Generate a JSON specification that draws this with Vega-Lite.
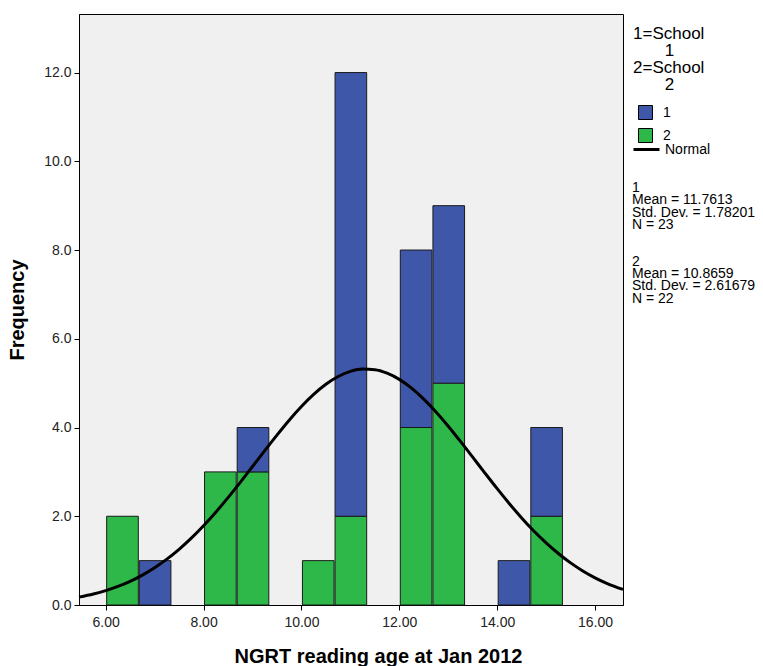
{
  "$schema": "https://vega.github.io/schema/vega-lite/v6.json",
  "autosize": "none",
  "width": 544,
  "height": 591,
  "padding": {"left": 79, "top": 14, "right": 140, "bottom": 61},
  "background": "white",
  "config": {
    "font": "Liberation Sans",
    "view": {"stroke": "black", "strokeWidth": 1, "fill": "#F0F0F0"},
    "axis": {
      "grid": false,
      "domainColor": "black",
      "tickColor": "black",
      "tickSize": 5,
      "labelFont": "Liberation Sans",
      "labelFontSize": 14,
      "labelColor": "#222222",
      "titleFont": "Liberation Sans",
      "titleFontSize": 20,
      "titleFontWeight": "bold",
      "titleColor": "black"
    }
  },
  "datasets": {
    "bars": [
      {"school": "2", "start": 6.0, "end": 6.6667, "count": 2},
      {"school": "1", "start": 6.6667, "end": 7.3333, "count": 1},
      {"school": "2", "start": 8.0, "end": 8.6667, "count": 3},
      {"school": "2", "start": 8.6667, "end": 9.3333, "count": 3},
      {"school": "1", "start": 8.6667, "end": 9.3333, "count": 1},
      {"school": "2", "start": 10.0, "end": 10.6667, "count": 1},
      {"school": "2", "start": 10.6667, "end": 11.3333, "count": 2},
      {"school": "1", "start": 10.6667, "end": 11.3333, "count": 10},
      {"school": "2", "start": 12.0, "end": 12.6667, "count": 4},
      {"school": "1", "start": 12.0, "end": 12.6667, "count": 4},
      {"school": "2", "start": 12.6667, "end": 13.3333, "count": 5},
      {"school": "1", "start": 12.6667, "end": 13.3333, "count": 4},
      {"school": "1", "start": 14.0, "end": 14.6667, "count": 1},
      {"school": "2", "start": 14.6667, "end": 15.3333, "count": 2},
      {"school": "1", "start": 14.6667, "end": 15.3333, "count": 2}
    ],
    "normal": [
      {"x": 5.455, "y": 0.177}, {"x": 5.75, "y": 0.247}, {"x": 6.0, "y": 0.323},
      {"x": 6.25, "y": 0.418}, {"x": 6.5, "y": 0.534}, {"x": 6.75, "y": 0.674},
      {"x": 7.0, "y": 0.839}, {"x": 7.25, "y": 1.033}, {"x": 7.5, "y": 1.255},
      {"x": 7.75, "y": 1.506}, {"x": 8.0, "y": 1.786}, {"x": 8.25, "y": 2.092},
      {"x": 8.5, "y": 2.42}, {"x": 8.75, "y": 2.765}, {"x": 9.0, "y": 3.121},
      {"x": 9.25, "y": 3.479}, {"x": 9.5, "y": 3.83}, {"x": 9.75, "y": 4.166},
      {"x": 10.0, "y": 4.474}, {"x": 10.25, "y": 4.747}, {"x": 10.5, "y": 4.975},
      {"x": 10.75, "y": 5.15}, {"x": 11.0, "y": 5.265}, {"x": 11.25, "y": 5.317},
      {"x": 11.5, "y": 5.304}, {"x": 11.75, "y": 5.225}, {"x": 12.0, "y": 5.085},
      {"x": 12.25, "y": 4.888}, {"x": 12.5, "y": 4.64}, {"x": 12.75, "y": 4.351},
      {"x": 13.0, "y": 4.03}, {"x": 13.25, "y": 3.687}, {"x": 13.5, "y": 3.332},
      {"x": 13.75, "y": 2.974}, {"x": 14.0, "y": 2.622}, {"x": 14.25, "y": 2.283},
      {"x": 14.5, "y": 1.963}, {"x": 14.75, "y": 1.668}, {"x": 15.0, "y": 1.4},
      {"x": 15.25, "y": 1.16}, {"x": 15.5, "y": 0.949}, {"x": 15.75, "y": 0.768},
      {"x": 16.0, "y": 0.613}, {"x": 16.25, "y": 0.484}, {"x": 16.571, "y": 0.351}
    ]
  },
  "layer": [
    {
      "data": {"name": "bars"},
      "mark": {"type": "bar", "stroke": "#1a1a1a", "strokeWidth": 1},
      "encoding": {
        "x": {
          "field": "start",
          "bin": {"binned": true, "step": 0.6667},
          "type": "quantitative",
          "scale": {"domain": [5.455, 16.571], "nice": false, "zero": false},
          "axis": {
            "title": "NGRT reading age at Jan 2012",
            "values": [6, 8, 10, 12, 14, 16],
            "format": ".2f",
            "labelPadding": 5,
            "titlePadding": 17,
            "titleX": 299
          }
        },
        "x2": {"field": "end"},
        "y": {
          "field": "count",
          "type": "quantitative",
          "stack": "zero",
          "scale": {"domain": [0, 13.32], "nice": false},
          "axis": {
            "title": "Frequency",
            "values": [0, 2, 4, 6, 8, 10, 12],
            "format": ".1f",
            "labelPadding": 3,
            "titlePadding": 16
          }
        },
        "color": {
          "field": "school",
          "type": "nominal",
          "scale": {"domain": ["1", "2"], "range": ["#3E57A8", "#2EB84A"]},
          "legend": {
            "orient": "none",
            "legendX": 554,
            "legendY": 12,
            "padding": 0,
            "title": ["1=School", "\u200b\u2007\u2007\u2007\u20091", "2=School", "\u200b\u2007\u2007\u2007\u20092"],
            "titleFont": "Liberation Sans",
            "titleFontSize": 17,
            "titleFontWeight": "normal",
            "titleLineHeight": 17,
            "titleColor": "black",
            "titlePadding": 11,
            "titleLimit": 300,
            "symbolType": "square",
            "symbolSize": 196,
            "symbolStrokeColor": "black",
            "symbolStrokeWidth": 1,
            "symbolOpacity": 1,
            "symbolOffset": 5,
            "labelFontSize": 14,
            "labelColor": "black",
            "labelOffset": 10,
            "rowPadding": 4
          }
        },
        "order": {"field": "school", "sort": "descending"}
      }
    },
    {
      "data": {"name": "normal"},
      "mark": {"type": "line", "strokeWidth": 3, "interpolate": "monotone"},
      "encoding": {
        "x": {"field": "x", "type": "quantitative"},
        "y": {"field": "y", "type": "quantitative"},
        "stroke": {
          "datum": "Normal",
          "type": "nominal",
          "scale": {"range": ["black"]},
          "legend": {
            "orient": "none",
            "legendX": 553,
            "legendY": 121,
            "padding": 0,
            "title": ["1", "Mean = 11.7613", "Std. Dev. = 1.78201", "N = 23", "\u200b", "\u200b", "2", "Mean = 10.8659", "Std. Dev. = 2.61679", "N = 22"],
            "titleOrient": "bottom",
            "titleFont": "Liberation Sans",
            "titleFontSize": 14,
            "titleFontWeight": "normal",
            "titleLineHeight": 12.3,
            "titleColor": "black",
            "titlePadding": 24,
            "titleLimit": 300,
            "symbolType": "stroke",
            "symbolSize": 676,
            "symbolStrokeWidth": 3,
            "labelFontSize": 14,
            "labelColor": "black",
            "labelOffset": 4
          }
        }
      }
    }
  ]
}
